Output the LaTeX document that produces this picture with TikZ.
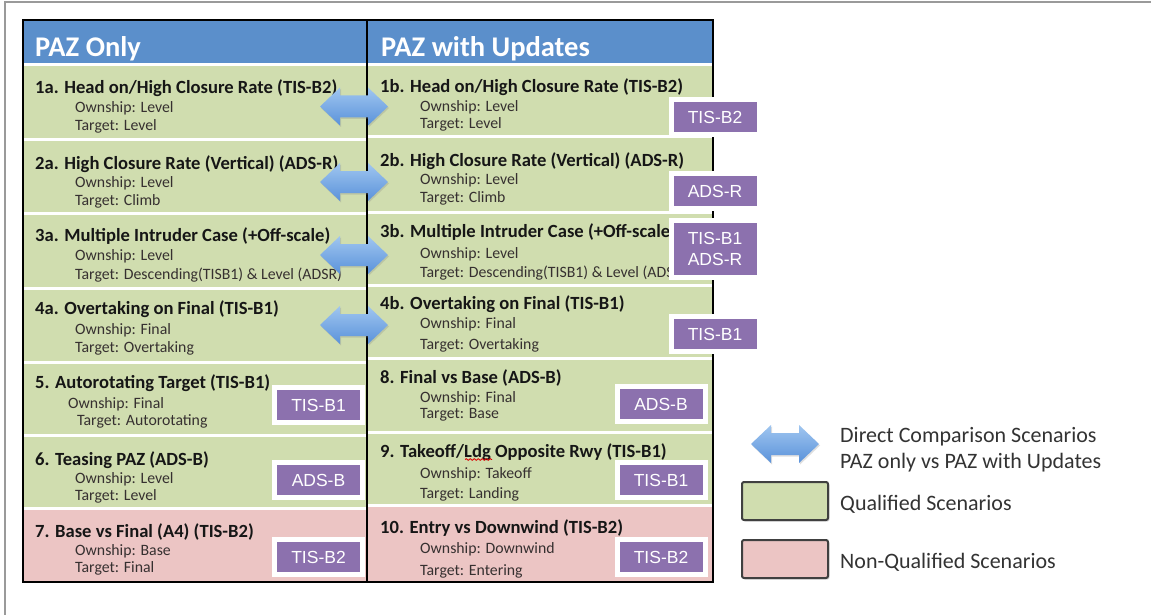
\documentclass[tikz,border=0pt]{standalone}
\usepackage{fontspec}
\setmainfont{Carlito}
\newfontfamily\arialf{Liberation Sans}
\usetikzlibrary{shadows,decorations.pathmorphing}
\definecolor{hdr}{HTML}{5B8FCB}
\definecolor{qual}{HTML}{D0DDAF}
\definecolor{nonq}{HTML}{ECC5C4}
\definecolor{tagc}{HTML}{8C71AE}
\definecolor{titc}{HTML}{161616}
\definecolor{subc}{HTML}{363030}
\definecolor{legc}{HTML}{333333}
\definecolor{arrt}{HTML}{A0C6F0}
\definecolor{arrb}{HTML}{5A92DA}
\definecolor{framec}{HTML}{9A9A9A}
\begin{document}
\begin{tikzpicture}[x=1pt,y=-1pt,
  title/.style={anchor=base west,inner sep=0pt,text=titc,font=\fontsize{18.6}{20}\selectfont\bfseries},
  sub/.style={anchor=base west,inner sep=0pt,text=subc,font=\fontsize{15.8}{17}\selectfont},
  hdrtext/.style={anchor=base west,inner sep=0pt,text=white,font=\fontsize{28.5}{30}\selectfont\bfseries},
  tag/.style={fill=tagc,draw=white,line width=5pt,text=white,minimum width=88pt,minimum height=35pt,
    inner sep=0pt,font=\arialf\fontsize{17.5}{21}\selectfont,align=center,
    drop shadow={shadow xshift=1.5pt,shadow yshift=-1.5pt,opacity=0.3}},
  legtext/.style={anchor=base west,inner sep=0pt,text=legc,font=\fontsize{22}{26}\selectfont},
  legbox/.style={draw=black!75,line width=2pt,rounded corners=2pt,minimum width=86pt,minimum height=38pt,
    inner sep=0pt,drop shadow={shadow xshift=1.5pt,shadow yshift=-1.5pt,opacity=0.3}},
  sep/.style={white,line width=3pt},
  border/.style={black,line width=2.5pt},
  dblarrow/.pic={\path[top color=arrt,bottom color=arrb,
      drop shadow={shadow xshift=1pt,shadow yshift=-1.5pt,opacity=0.25}]
      (-34,0)--(-14,-19)--(-14,-11)--(14,-11)--(14,-19)--(34,0)--(14,19)--(14,11)--(-14,11)--(-14,19)--cycle;}
]
\useasboundingbox (0,0) rectangle (1151,615);
\fill[white] (0,0) rectangle (1151,615);
% outer frame (top and left only)
\draw[framec,line width=1.5pt] (5,615) -- (5,2) -- (1151,2);

% ---------- backgrounds ----------
\fill[hdr] (23,20) rectangle (713,63);
\fill[qual] (23,63) rectangle (367,508);
\fill[nonq] (23,508) rectangle (367,582);
\fill[qual] (367,63) rectangle (713,505);
\fill[nonq] (367,505) rectangle (713,582);
% separators left
\foreach \yy in {64.5,140,213,288,362,435,508}
  \draw[sep] (23,\yy) -- (367,\yy);
% separators right
\foreach \yy in {64.5,137,212,285,358,432,505}
  \draw[sep] (367,\yy) -- (713,\yy);
% borders
\draw[border] (23,20) rectangle (367,582);
\draw[border] (367,20) rectangle (713,582);

% ---------- headers ----------
\node[hdrtext] (hl) at (35,57) {PAZ Only};
\node[hdrtext] (hr) at (381,57) {PAZ with Updates};

% ---------- left column ----------
\node[title] (a1) at (35,94) {1a. Head on/High Closure Rate (TIS-B2)};
\node[sub] (a1o) at (75,113) {Ownship: Level};
\node[sub] (a1t) at (75,131) {Target: Level};

\node[title] (a2) at (35,169) {2a. High Closure Rate (Vertical) (ADS-R)};
\node[sub] (a2o) at (75,187) {Ownship: Level};
\node[sub] (a2t) at (75,205) {Target: Climb};

\node[title] (a3) at (35,241) {3a. Multiple Intruder Case (+Off-scale)};
\node[sub] (a3o) at (75,260) {Ownship: Level};
\node[sub] (a3t) at (75,279) {Target: Descending(TISB1) \& Level (ADSR)};

\node[title] (a4) at (35,314) {4a. Overtaking on Final (TIS-B1)};
\node[sub] (a4o) at (75,334) {Ownship: Final};
\node[sub] (a4t) at (75,352) {Target: Overtaking};

\node[title] (a5) at (35,388) {5. Autorotating Target (TIS-B1)};
\node[sub] (a5o) at (68,408) {Ownship: Final};
\node[sub] (a5t) at (77,425) {Target: Autorotating};

\node[title] (a6) at (35,465) {6. Teasing PAZ (ADS-B)};
\node[sub] (a6o) at (75,483) {Ownship: Level};
\node[sub] (a6t) at (75,500) {Target: Level};

\node[title] (a7) at (35,537) {7. Base vs Final (A4) (TIS-B2)};
\node[sub] (a7o) at (75,555) {Ownship: Base};
\node[sub] (a7t) at (75,572) {Target: Final};

% ---------- right column ----------
\node[title] (b1) at (380,93) {1b. Head on/High Closure Rate (TIS-B2)};
\node[sub] (b1o) at (420,112) {Ownship: Level};
\node[sub] (b1t) at (420,129) {Target: Level};

\node[title] (b2) at (380,167) {2b. High Closure Rate (Vertical) (ADS-R)};
\node[sub] (b2o) at (420,184) {Ownship: Level};
\node[sub] (b2t) at (420,202) {Target: Climb};

\node[title] (b3) at (380,237) {3b. Multiple Intruder Case (+Off-scale)};
\node[sub] (b3o) at (420,258) {Ownship: Level};
\node[sub] (b3t) at (420,277) {Target: Descending(TISB1) \& Level (ADSR)};

\node[title] (b4) at (380,309) {4b. Overtaking on Final (TIS-B1)};
\node[sub] (b4o) at (420,328) {Ownship: Final};
\node[sub] (b4t) at (420,349) {Target: Overtaking};

\node[title] (b8) at (380,383) {8. Final vs Base (ADS-B)};
\node[sub] (b8o) at (420,402) {Ownship: Final};
\node[sub] (b8t) at (420,418) {Target: Base};

\node[title] (b9) at (380,457) {9. Takeoff/Ldg Opposite Rwy (TIS-B1)};
\node[sub] (b9o) at (420,478) {Ownship: Takeoff};
\node[sub] (b9t) at (420,498) {Target: Landing};
\draw[red!85!black,line width=0.9pt,decorate,decoration={snake,amplitude=0.8pt,segment length=4pt}]
  (465,459.5) -- (492,459.5);

\node[title] (b10) at (380,533) {10. Entry vs Downwind (TIS-B2)};
\node[sub] (b10o) at (420,553) {Ownship: Downwind};
\node[sub] (b10t) at (420,575) {Target: Entering};

% ---------- tags ----------
\node[tag] (t5) at (318.5,405) {TIS-B1};
\node[tag] (t6) at (318.5,480) {ADS-B};
\node[tag] (t7) at (318.5,557) {TIS-B2};
\node[tag] (u1) at (715,117) {TIS-B2};
\node[tag] (u2) at (715,191) {ADS-R};
\node[tag,minimum height=57pt] (u3) at (715,249) {TIS-B1\\ADS-R};
\node[tag] (u4) at (715,334) {TIS-B1};
\node[tag] (u8) at (661,404) {ADS-B};
\node[tag] (u9) at (661,480) {TIS-B1};
\node[tag] (u10) at (661,557) {TIS-B2};

% ---------- comparison arrows ----------
\pic at (354,106.5) {dblarrow};
\pic at (354,182) {dblarrow};
\pic at (354,255) {dblarrow};
\pic at (354,325) {dblarrow};

% ---------- legend ----------
\pic at (785,444) {dblarrow};
\node[legtext] (l1) at (840,442) {Direct Comparison Scenarios};
\node[legtext] (l2) at (840,468) {PAZ only vs PAZ with Updates};
\node[legbox,fill=qual] (gq) at (785,501) {};
\node[legtext] (l3) at (840,510) {Qualified Scenarios};
\node[legbox,fill=nonq] (gn) at (785,559) {};
\node[legtext] (l4) at (840,568) {Non-Qualified Scenarios};
\end{tikzpicture}
\end{document}
